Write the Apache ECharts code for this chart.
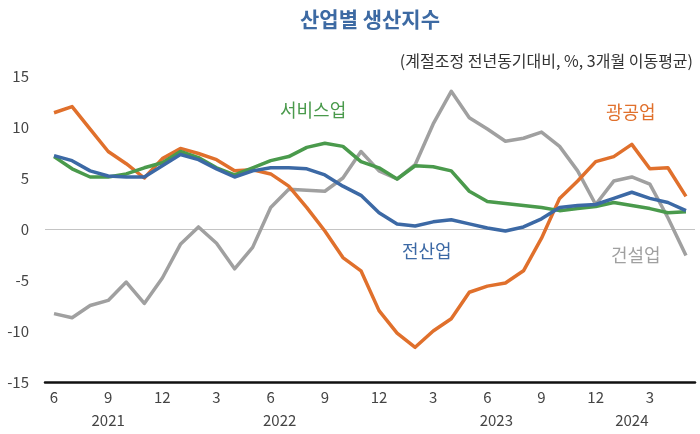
<!DOCTYPE html>
<html><head><meta charset="utf-8">
<script src="https://cdn.jsdelivr.net/npm/echarts@6/dist/echarts.min.js"></script>
<style>html,body{margin:0;padding:0;background:#fff}#c{width:700px;height:434px}</style>
</head><body><div id="c"></div>
<script>
const categories = ['2021-06','2021-07','2021-08','2021-09','2021-10','2021-11','2021-12',
'2022-01','2022-02','2022-03','2022-04','2022-05','2022-06','2022-07','2022-08','2022-09','2022-10','2022-11','2022-12',
'2023-01','2023-02','2023-03','2023-04','2023-05','2023-06','2023-07','2023-08','2023-09','2023-10','2023-11','2023-12',
'2024-01','2024-02','2024-03','2024-04','2024-05'];
const allIndustry = [7.2,6.7,5.7,5.2,5.1,5.1,6.2,7.3,6.8,5.9,5.1,5.7,6.0,6.0,5.9,5.3,4.2,3.3,1.6,0.5,0.3,0.7,0.9,0.5,0.1,-0.2,0.2,1.0,2.1,2.3,2.4,3.0,3.6,3.0,2.6,1.8];
const mining = [11.4,12.0,9.8,7.6,6.4,5.0,6.9,7.9,7.4,6.8,5.7,5.8,5.4,4.2,2.1,-0.2,-2.8,-4.1,-8.0,-10.2,-11.6,-10.0,-8.8,-6.2,-5.6,-5.3,-4.1,-0.9,3.0,4.7,6.6,7.1,8.3,5.9,6.0,3.2];
const services = [7.1,5.9,5.1,5.1,5.4,6.0,6.5,7.6,7.0,6.0,5.3,6.0,6.7,7.1,8.0,8.4,8.1,6.6,6.0,4.9,6.2,6.1,5.7,3.7,2.7,2.5,2.3,2.1,1.8,2.0,2.2,2.6,2.3,2.0,1.6,1.7];
const construction = [-8.3,-8.7,-7.5,-7.0,-5.2,-7.3,-4.8,-1.5,0.2,-1.4,-3.9,-1.8,2.1,3.9,3.8,3.7,5.0,7.6,5.7,4.9,6.3,10.3,13.5,10.9,9.8,8.6,8.9,9.5,8.1,5.7,2.4,4.7,5.1,4.4,1.1,-2.6];
const yearLabels = {3:'2021', 12:'2022', 24:'2023', 32:'2024'};

const FONT = '"Noto Sans CJK KR", "Noto Sans", sans-serif';
const chart = echarts.init(document.getElementById('c'), null, {renderer:'canvas'});
function line(name, data, color, z){
  return {name, type:'line', data, symbol:'none', smooth:false, z,
    lineStyle:{color, width:3.5, join:'round'}, itemStyle:{color}};
}
const s = [
  line('건설업', construction, '#a0a0a0', 2),
  line('광공업', mining, '#e0702c', 3),
  line('서비스업', services, '#4a9a4c', 4),
  line('전산업', allIndustry, '#3c69a5', 5)
];
s[0].markLine = {silent:true, symbol:'none', label:{show:false}, lineStyle:{color:'#c4c4c4', width:1.2, type:'solid'}, data:[{yAxis:0}], z:1};
const option = {
  animation:false,
  textStyle:{fontFamily:FONT},
  grid:{left:45, right:5, top:76, bottom:52},
  title:[
    {text:'산업별 생산지수', left:365, top:4, textAlign:'center', textStyle:{fontFamily:FONT, fontSize:21, fontWeight:'bold', color:'#3d6aa3'}},
    {text:'(계절조정 전년동기대비, %, 3개월 이동평균)', right:2, top:48, textStyle:{fontFamily:FONT, fontSize:16, fontWeight:'normal', color:'#333'}}
  ],
  xAxis:[
    {type:'category', data:categories, boundaryGap:true,
     axisLine:{onZero:false, lineStyle:{color:'#111', width:2.5}},
     axisTick:{show:false},
     axisLabel:{interval:2, margin:8, fontSize:15, color:'#444', fontFamily:FONT,
       formatter:v=>String(parseInt(v.split('-')[1],10))}},
    {type:'category', data:categories, boundaryGap:true, position:'bottom', offset:23,
     axisLine:{show:false}, axisTick:{show:false},
     axisLabel:{interval:(i)=>yearLabels[i]!==undefined, margin:8, fontSize:15, color:'#444', fontFamily:FONT,
       formatter:(v,i)=>{const y=yearLabels[i]; if(!y) return ''; return (i===12||i===24)?'{p|'+y+'}':y;},
       rich:{p:{padding:[0,0,0,18], fontSize:15, color:'#444', fontFamily:FONT}}}}
  ],
  yAxis:{type:'value', min:-15, max:15, interval:5,
    axisLine:{show:false}, axisTick:{show:false}, splitLine:{show:false},
    axisLabel:{fontSize:15, color:'#444', margin:16, fontFamily:FONT}},
  series:s,
  graphic:[
    {type:'text', left:280, top:101, style:{text:'서비스업', fill:'#4a9a4c', font:'18px '+FONT}},
    {type:'text', left:606, top:103, style:{text:'광공업', fill:'#e0702c', font:'18px '+FONT}},
    {type:'text', left:402, top:242, style:{text:'전산업', fill:'#3c69a5', font:'18px '+FONT}},
    {type:'text', left:611, top:246, style:{text:'건설업', fill:'#a0a0a0', font:'18px '+FONT}}
  ]
};
chart.setOption(option);
</script></body></html>
